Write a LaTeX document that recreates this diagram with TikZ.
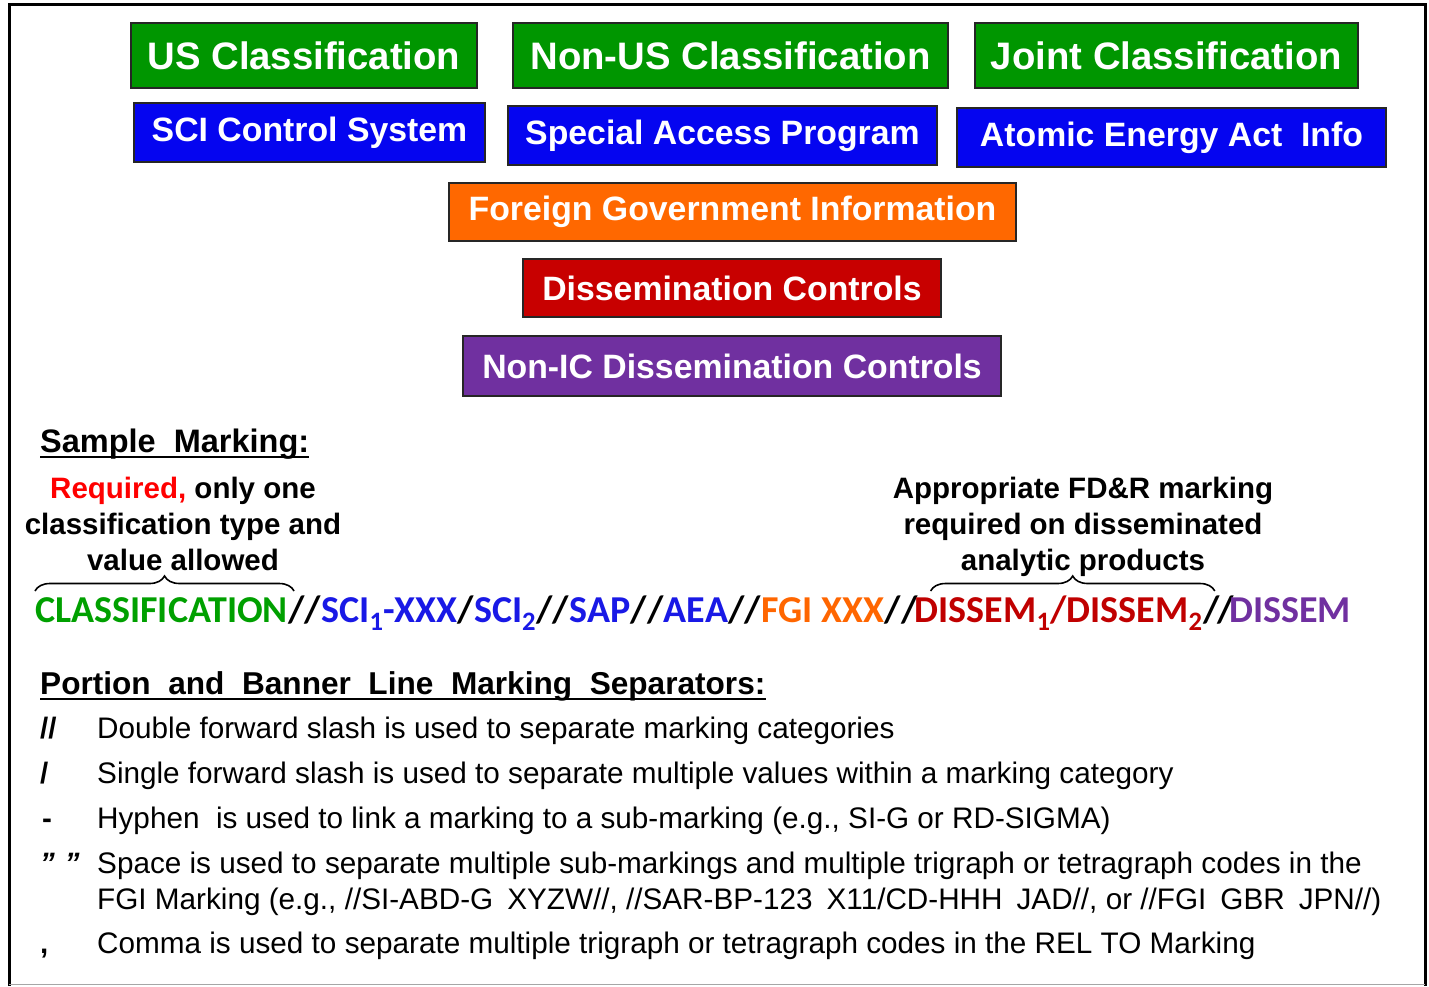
\documentclass[tikz,border=0pt]{standalone}
\usepackage{fontspec}
\setmainfont{Liberation Sans}
\newfontfamily\calfont{Carlito}
\usetikzlibrary{decorations.pathreplacing}
\definecolor{boxgreen}{RGB}{0,150,0}
\definecolor{boxblue}{RGB}{5,5,240}
\definecolor{boxorange}{RGB}{255,104,0}
\definecolor{boxred}{RGB}{200,0,0}
\definecolor{boxpurple}{RGB}{112,48,160}
\definecolor{mgreen}{RGB}{0,160,0}
\definecolor{mblue}{RGB}{25,25,230}
\definecolor{morange}{RGB}{255,102,0}
\definecolor{mred}{RGB}{192,0,0}
\definecolor{mpurple}{RGB}{112,48,160}
\definecolor{reqred}{RGB}{255,0,0}
\newcommand{\gapsp}{\hspace{14pt}}
\begin{document}
\begin{tikzpicture}[x=1pt,y=-1pt,
 catbox/.style={draw=black!85, line width=1.8pt, text=white, inner sep=0pt, font=\bfseries\fontsize{33.8}{40}\selectfont, anchor=center},
 bigbox/.style={catbox, font=\bfseries\fontsize{38.3}{44}\selectfont},
 mk/.style={inner sep=0pt, anchor=base west, font=\calfont\bfseries\fontsize{38}{44}\selectfont},
 note/.style={inner sep=0pt, anchor=base, font=\bfseries\fontsize{29.5}{36}\selectfont},
 head/.style={inner sep=0pt, anchor=base west, font=\bfseries\fontsize{32.5}{38}\selectfont},
 sym/.style={inner sep=0pt, anchor=base west, font=\bfseries\fontsize{29.5}{36}\selectfont},
 body/.style={inner sep=0pt, anchor=base west, font=\fontsize{29.7}{36}\selectfont},
 bracket/.style={decorate, decoration={brace, amplitude=15pt}, line width=1.6pt},
 uline/.style={line width=2.4pt}
]
\useasboundingbox (0,0) rectangle (1429,986);
\fill[white] (0,0) rectangle (1429,986);
% frame
\draw[line width=3pt] (9,986) -- (9,4) -- (1425,4) -- (1425,986);
\draw[black!35, line width=1pt] (9,984.5) -- (1425,984.5);

% category boxes
\node[bigbox, fill=boxgreen, minimum width=346pt, minimum height=65pt] (us) at (304,55.5) {US Classification};
\node[bigbox, fill=boxgreen, minimum width=435pt, minimum height=65pt] (nonus) at (730.5,55.5) {Non-US Classification};
\node[bigbox, fill=boxgreen, minimum width=383pt, minimum height=65pt] (joint) at (1166.5,55.5) {Joint Classification};
\node[catbox, fill=boxblue, minimum width=351pt, minimum height=59pt] (sci) at (309.5,132.5) {SCI Control System};
\node[catbox, fill=boxblue, minimum width=429pt, minimum height=59pt] (sap) at (722.5,135.5) {Special Access Program};
\node[catbox, fill=boxblue, minimum width=429pt, minimum height=59pt] (aea) at (1171.5,137.5) {Atomic Energy Act\ \ Info};
\node[catbox, fill=boxorange, minimum width=567pt, minimum height=58pt] (fgi) at (732.5,212) {Foreign Government Information};
\node[catbox, fill=boxred, minimum width=418pt, minimum height=58pt] (dis) at (732,288) {Dissemination Controls};
\node[catbox, fill=boxpurple, minimum width=538pt, minimum height=60pt] (nonic) at (732,366) {Non-IC Dissemination Controls};

% Sample marking heading
\node[head] (smh) at (40,452) {Sample\ \ Marking:};
\draw[uline] ([yshift=-5pt]smh.base west) -- ([yshift=-5pt]smh.base east);

% annotations
\node[note] (r1) at (183,498) {{\color{reqred}Required,} only one};
\node[note] (r2) at (183,534) {classification type and};
\node[note] (r3) at (183,570) {value allowed};
\node[note] (a1) at (1083,498) {Appropriate FD\&R marking};
\node[note] (a2) at (1083,534) {required on disseminated};
\node[note] (a3) at (1083,570) {analytic products};

% marking line
\node[mk, text=mgreen] (cls) at (35,622) {CLASSIFICATION};
\node[mk] (p1) at (cls.base east) {//};
\node[mk, text=mblue] (sci1) at (p1.base east) {SCI\textsubscript{1}-XXX};
\node[mk] (p2) at (sci1.base east) {/};
\node[mk, text=mblue] (sci2) at (p2.base east) {SCI\textsubscript{2}};
\node[mk] (p3) at (sci2.base east) {//};
\node[mk, text=mblue] (msap) at (p3.base east) {SAP};
\node[mk] (p4) at (msap.base east) {//};
\node[mk, text=mblue] (maea) at (p4.base east) {AEA};
\node[mk] (p5) at (maea.base east) {//};
\node[mk, text=morange] (mfgi) at (p5.base east) {FGI XXX};
\node[mk] (p6) at (mfgi.base east) {//\kern-3pt};
\node[mk, text=mred] (mdis) at (p6.base east) {DISSEM\textsubscript{1}/DISSEM\textsubscript{2}};
\node[mk] (p7) at (mdis.base east) {/\kern-2pt/\kern-5pt};
\node[mk, text=mpurple] (mnic) at (p7.base east) {DISSEM};

% braces
\draw[bracket] ([yshift=31pt]cls.base west) -- ([xshift=6pt,yshift=31pt]cls.base east);
\draw[bracket] ([xshift=16pt,yshift=31pt]mdis.base west) -- ([xshift=12pt,yshift=31pt]mdis.base east);

% separators heading
\node[head, font=\bfseries\fontsize{31.6}{38}\selectfont] (sep) at (40,694) {Portion\ \ and\ \ Banner\ \ Line\ \ Marking\ \ Separators:};
\draw[uline] ([yshift=-5pt]sep.base west) -- ([yshift=-5pt]sep.base east);

\node[sym] (s1) at (40,738) {//};
\node[body] (t1) at (97,738) {Double forward slash is used to separate marking categories};
\node[sym] (s2) at (40,783) {/};
\node[body] (t2) at (97,783) {Single forward slash is used to separate multiple values within a marking category};
\node[sym] (s3) at (42,828) {-};
\node[body] (t3) at (97,828) {Hyphen\ \ is used to link a marking to a sub-marking (e.g., SI-G or RD-SIGMA)};
\node[sym] (s4) at (40,873) {\itshape "\,\,"};
\node[body] (t4) at (97,873) {Space is used to separate multiple sub-markings and multiple trigraph or tetragraph codes in the};
\node[body] (t5) at (97,909) {FGI Marking (e.g., //SI-ABD-G\gapsp XYZW//, //SAR-BP-123\gapsp X11/CD-HHH\gapsp JAD//, or //FGI\gapsp GBR\gapsp JPN//)};
\node[sym] (s6) at (40,953) {,};
\node[body] (t6) at (97,953) {Comma is used to separate multiple trigraph or tetragraph codes in the REL TO Marking};
\end{tikzpicture}
\end{document}
